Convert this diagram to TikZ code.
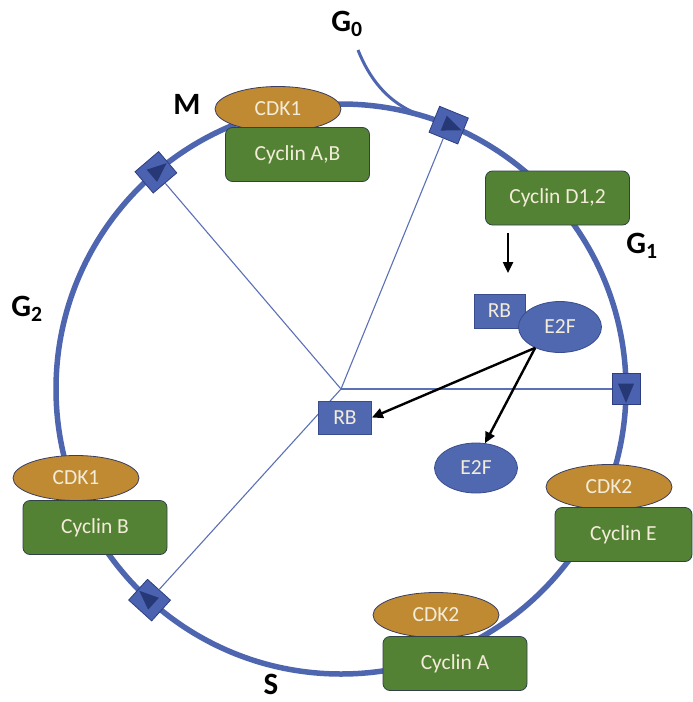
\documentclass[tikz,border=0pt]{standalone}
\usepackage{fontspec}
\setmainfont{Carlito}
\usetikzlibrary{positioning,calc,shapes.geometric,arrows.meta}

\definecolor{ringblue}{RGB}{78,102,176}
\definecolor{spokeblue}{RGB}{92,112,182}
\definecolor{markblue}{RGB}{74,98,176}
\definecolor{markline}{RGB}{46,62,128}
\definecolor{tridark}{RGB}{38,56,118}
\definecolor{protblue}{RGB}{80,104,176}
\definecolor{protline}{RGB}{56,76,142}
\definecolor{cdkorange}{RGB}{191,138,50}
\definecolor{cdkline}{RGB}{58,62,96}
\definecolor{cycgreen}{RGB}{84,130,53}
\definecolor{cycline}{RGB}{48,66,72}
\definecolor{labtext}{RGB}{242,236,216}

\begin{document}
\begin{tikzpicture}[x=1pt,y=1pt,
    txt/.style={font=\fontsize{21.5}{25}\selectfont, text=labtext},
    cdk/.style={txt, ellipse, draw=cdkline, line width=0.8pt, fill=cdkorange,
        minimum width=126pt, minimum height=45pt, inner sep=0pt},
    cyclin/.style={txt, rectangle, rounded corners=7pt, draw=cycline, line width=0.8pt,
        fill=cycgreen, minimum width=144pt, minimum height=54pt},
    rbbox/.style={txt, rectangle, draw=protline, line width=0.8pt, fill=protblue,
        minimum width=53pt, minimum height=33pt, inner sep=0pt},
    e2f/.style={txt, ellipse, draw=protline, line width=0.8pt, fill=protblue,
        minimum width=83pt, minimum height=51pt, inner sep=0pt},
    markbox/.style={rectangle, draw=markline, line width=0.8pt, fill=markblue,
        minimum width=31pt, minimum height=28pt, inner sep=0pt},
    marktri/.style={isosceles triangle, fill=tridark, minimum width=16pt,
        minimum height=16pt, inner sep=0pt},
    ring/.style={draw=ringblue, line width=5.5pt},
    spoke/.style={draw=spokeblue, line width=1.1pt},
    phase/.style={font=\fontsize{31}{34}\selectfont\bfseries},
    arr/.style={-{Triangle[length=11pt,width=10pt]}, line width=2.4pt, black}]

    \useasboundingbox (0,0) rectangle (693,-702);

    % Cycle ring
    \coordinate (hub) at (341,-389);
    \draw[ring] (hub) circle (285);

    % G0 branch
    \coordinate (g0s) at (358,-50);
    \coordinate (g0e) at ($(hub)+(72:285)$);
    \draw[ring, line width=3pt] (g0s) .. controls (372,-85) and (394,-108) .. (g0e);

    % Checkpoints and spokes
    \foreach \ang/\nm in {67.8/mka, 0/mkb, 227.8/mkc, 130.5/mkd}{
        \node[markbox, rotate=\ang-90] (\nm) at ($(hub)+(\ang:285)$) {};
        \node[marktri, rotate=\ang-90] at (\nm) {};
        \draw[spoke] (hub) -- (\nm);
    }

    % Complexes on the ring
    \node[cdk] (cdkm) at (278,-109) {CDK1};
    \node[cyclin] (cycab) at (297.5,-154.5) {Cyclin A,B};
    \node[cyclin] (cycd) at (557.5,-198) {Cyclin D1,2};
    \node[cdk] (cdke) at (609,-487) {CDK2};
    \node[cyclin, minimum width=137pt] (cyce) at (623.5,-534.5) {Cyclin E};
    \node[cdk] (cdka) at (436,-615) {CDK2};
    \node[cyclin] (cyca) at (455,-663.5) {Cyclin A};
    \node[cdk] (cdkb) at (76,-478) {CDK1};
    \node[cyclin] (cycb) at (95,-527.5) {Cyclin B};

    % RB / E2F
    \node[rbbox, minimum width=51pt, minimum height=34pt] (rba) at (499.5,-311) {RB};
    \node[e2f] (e2fa) at (560,-327) {E2F};
    \node[rbbox] (rbc) at (345,-417.5) {RB};
    \node[e2f, minimum height=50pt] (e2fb) at (476,-468) {E2F};

    \coordinate (d1) at (508,-233);
    \coordinate (d2) at (508,-273);
    \draw[arr] (d1) -- (d2);
    \draw[arr] (e2fa.220) -- (rbc.east);
    \draw[arr] (e2fa.220) -- (e2fb.70);

    % Phase labels
    \node[phase] (lg0) at (347,-24) {G\textsubscript{0}};
    \node[phase] (lg1) at (642,-246) {G\textsubscript{1}};
    \node[phase] (lg2) at (27,-309) {G\textsubscript{2}};
    \node[phase] (lm) at (187,-104) {M};
    \node[phase] (ls) at (271,-684) {S};

\end{tikzpicture}
\end{document}
